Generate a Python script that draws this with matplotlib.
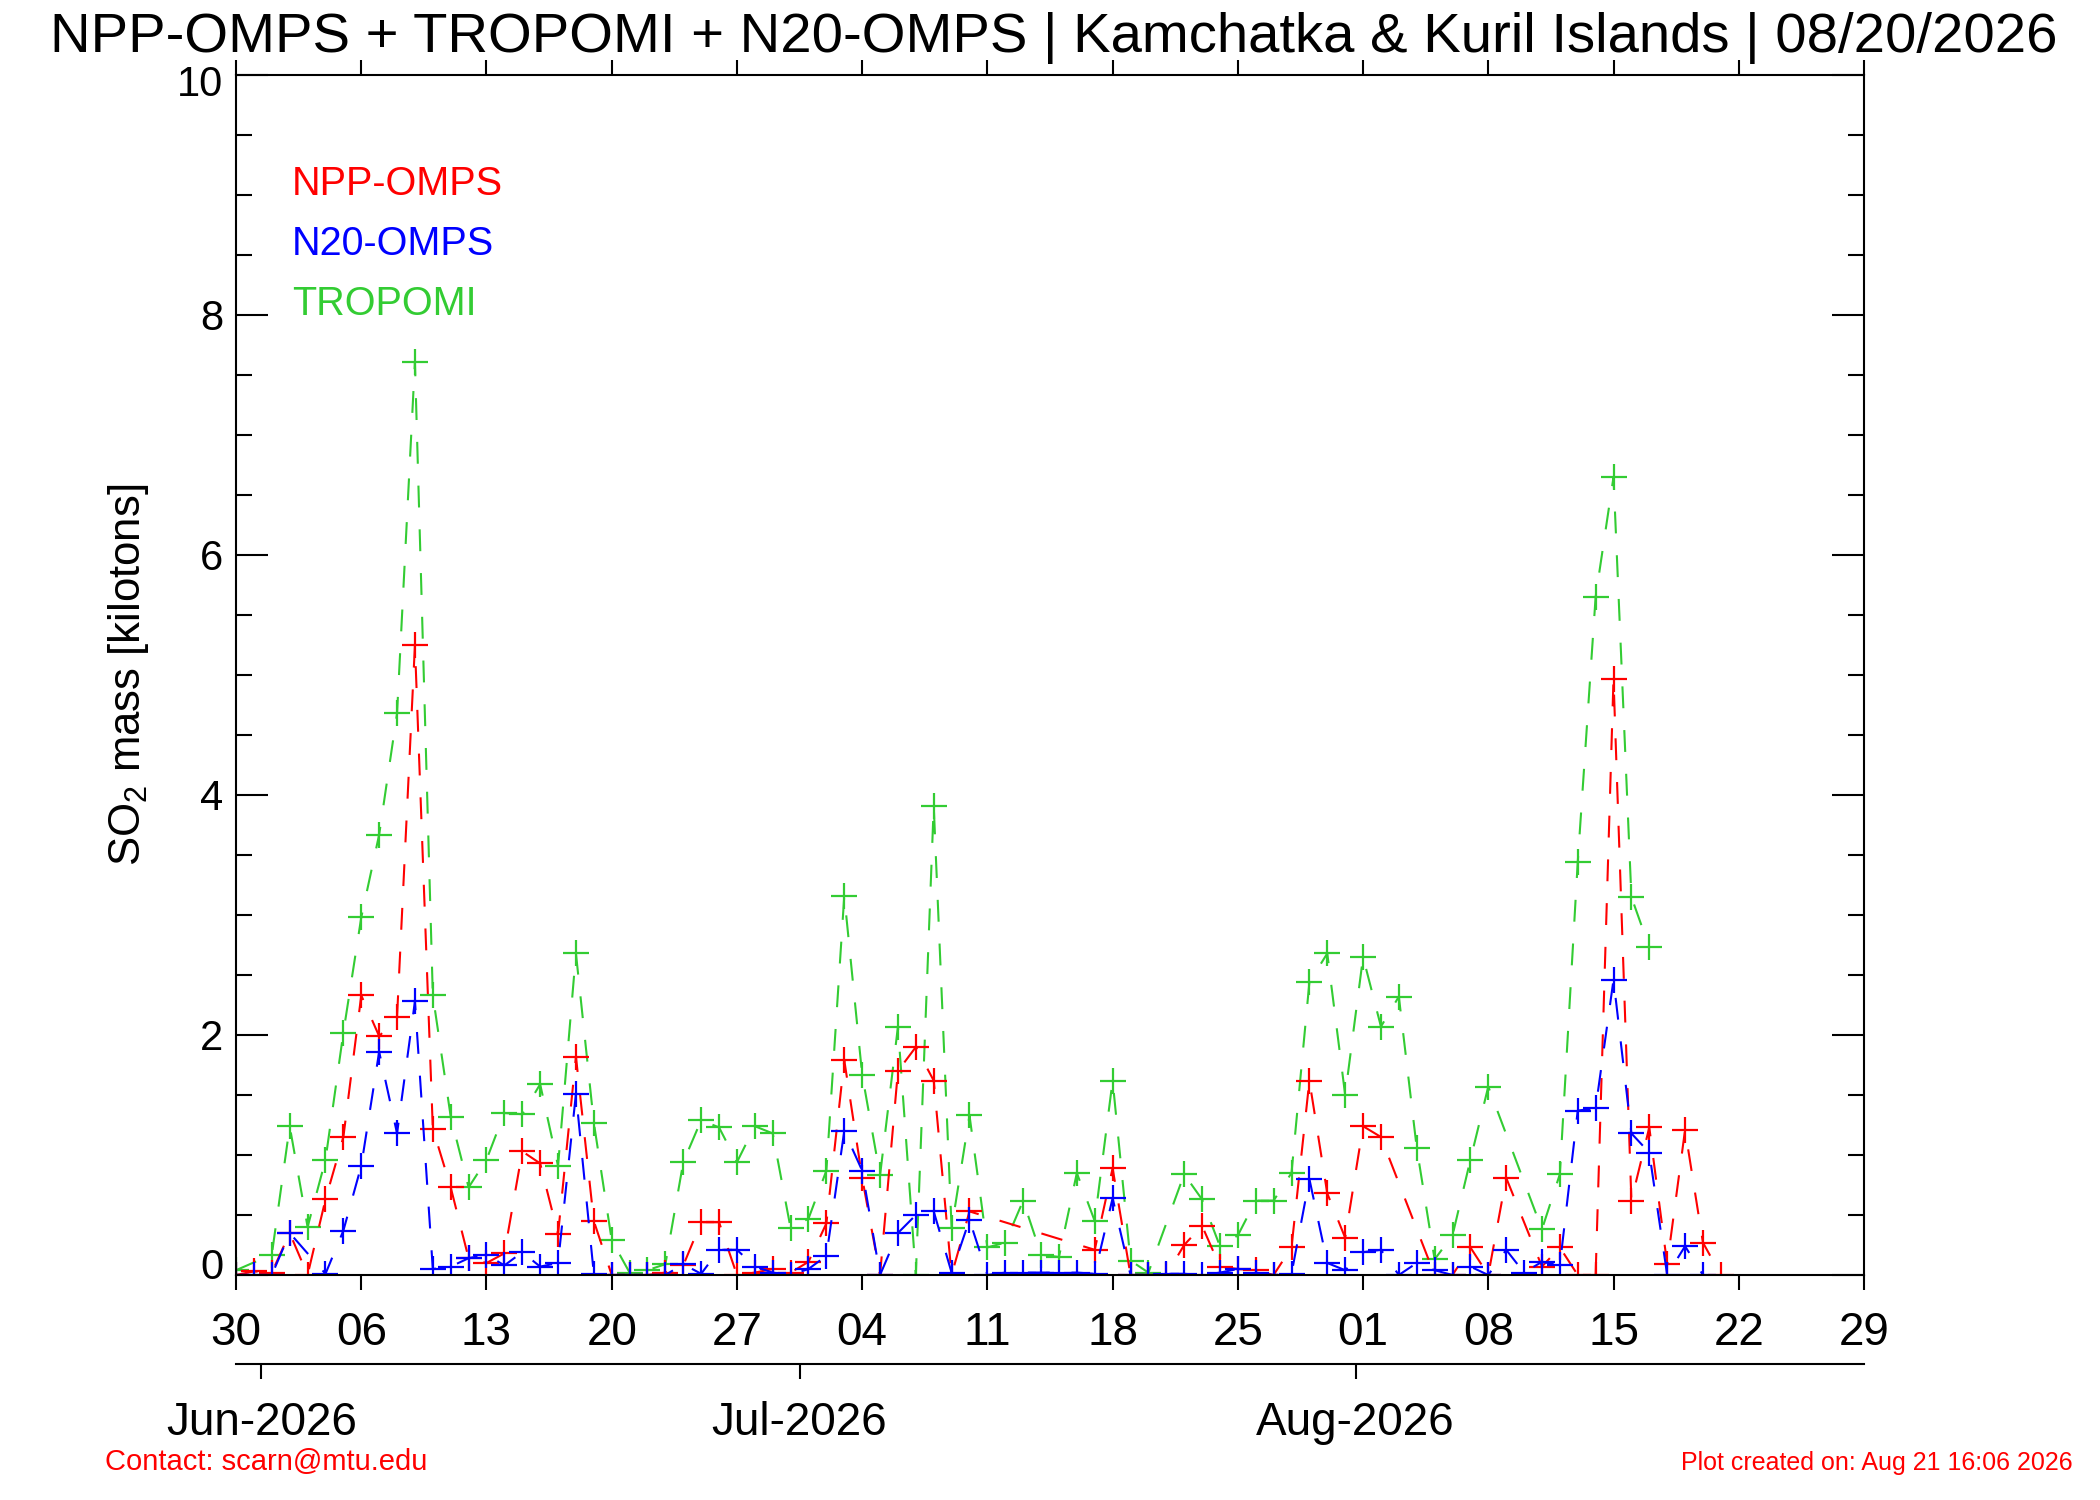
import numpy as np
import matplotlib
matplotlib.use("Agg")
import matplotlib.pyplot as plt
import matplotlib.dates as mdates
from matplotlib.ticker import MultipleLocator, FuncFormatter, FixedFormatter

plt.rcParams['font.family'] = ['Liberation Sans', 'DejaVu Sans']
plt.rcParams['mathtext.fontset'] = 'custom'
plt.rcParams['mathtext.rm'] = 'Liberation Sans'
plt.rcParams['mathtext.it'] = 'Liberation Sans:italic'

#########################################################################
# data (days counted from 30 May 2026)
#########################################################################
start = np.datetime64('2026-05-30')

npp_days = list(range(0, 42)) + list(range(48, 65)) + [67, 68, 69, 70, 71] + list(range(73, 84))
npp_vals = [0.0, 0.03, 0.02, 0.35, 0.0, 0.63, 1.15, 2.33, 1.99, 2.15,
            5.25, 1.22, 0.73, 0.14, 0.10, 0.18, 1.03, 0.93, 0.34, 1.82,
            0.45, 0.0, 0.0, 0.0, 0.02, 0.08, 0.44, 0.44, 0.0, 0.02,
            0.05, 0.02, 0.11, 0.43, 1.79, 0.81, 0.0, 1.70, 1.90, 1.62,
            0.0, 0.53,
            0.21, 0.89, 0.0, 0.0, 0.0, 0.25, 0.41, 0.07, 0.05, 0.04,
            0.0, 0.23, 1.62, 0.68, 0.31, 1.24, 1.15,
            0.0, 0.0, 0.23, 0.0, 0.81,
            0.07, 0.23, 0.0, 0.0, 4.97, 0.62, 1.23, 0.09, 1.21, 0.27, 0.0]

n20_days = [0, 1, 2, 3] + list(range(5, 83))
n20_vals = [0.0, 0.0, 0.0, 0.35,
            0.01, 0.37, 0.91, 1.86, 1.18, 2.28, 0.05, 0.07, 0.14, 0.17,
            0.08, 0.19, 0.07, 0.10, 1.51, 0.01, 0.0, 0.0, 0.0, 0.0,
            0.09, 0.01, 0.21, 0.21, 0.07, 0.02, 0.0, 0.05, 0.16, 1.20,
            0.87, 0.0, 0.35, 0.50, 0.53, 0.02, 0.46, 0.0, 0.02, 0.02,
            0.02, 0.02, 0.02, 0.01, 0.64, 0.0, 0.0, 0.01, 0.01, 0.0,
            0.02, 0.05, 0.02, 0.0, 0.01, 0.80, 0.10, 0.04, 0.19, 0.21,
            0.0, 0.10, 0.04, 0.0, 0.07, 0.0, 0.21, 0.02, 0.11, 0.08,
            1.37, 1.39, 2.46, 1.18, 1.02, 0.0, 0.24, 0.0]

tro_days = [0] + list(range(2, 52)) + list(range(53, 71)) + list(range(73, 80))
tro_vals = [0.04,
            0.17, 1.24, 0.40, 0.96, 2.02, 2.98, 3.67, 4.68, 7.61, 2.33,
            1.32, 0.73, 0.96, 1.35, 1.34, 1.59, 0.91, 2.68, 1.27, 0.29,
            0.02, 0.04, 0.09, 0.94, 1.29, 1.23, 0.94, 1.24, 1.18, 0.39,
            0.47, 0.87, 3.16, 1.67, 0.83, 2.07, 0.0, 3.91, 0.39, 1.33,
            0.23, 0.27, 0.62, 0.17, 0.15, 0.85, 0.45, 1.62, 0.12, 0.02,
            0.84, 0.63, 0.24, 0.33, 0.62, 0.62, 0.85, 2.44, 2.68, 1.50,
            2.65, 2.07, 2.32, 1.06, 0.13, 0.33, 0.96, 1.57,
            0.38, 0.84, 3.44, 5.65, 6.65, 3.15, 2.73]

series = [("TROPOMI", tro_days, tro_vals, '#33cc33'),
          ("NPP-OMPS", npp_days, npp_vals, '#ff0000'),
          ("N20-OMPS", n20_days, n20_vals, '#0000ff')]

# month labels and where the original plot puts them
month_ticks = ['2026-05-31T10:00', '2026-06-30T12:00', '2026-07-31T14:00']
month_labels = ['Jun-2026', 'Jul-2026', 'Aug-2026']

title = "NPP-OMPS + TROPOMI + N20-OMPS | Kamchatka & Kuril Islands | 08/20/2026"

#########################################################################
# plot
#########################################################################
fig = plt.figure(figsize=(21, 15), dpi=100)
ax = fig.add_axes([0.1124, 0.15, 0.7752, 0.80])

for name, days, vals, col in series:
    dates = (start + np.array(days, dtype='timedelta64[D]')).astype('datetime64[D]').astype(object)
    ax.plot(dates, vals, color=col, ls=(0, (10.5, 10.5)), lw=1.5,
            marker='+', ms=19, mew=1.6)

xmin = start.astype(object)
xmax = (start + np.timedelta64(91, 'D')).astype(object)
ymin, ymax = 0, 10
ax.set_xlim(xmin, xmax)
ax.set_ylim(ymin, ymax)

wk = [(start + np.timedelta64(7 * k, 'D')).astype(object) for k in range(14)]
ax.set_xticks(wk)
ax.xaxis.set_major_formatter(mdates.DateFormatter('%d'))
ax.yaxis.set_major_locator(MultipleLocator(2))
ax.yaxis.set_minor_locator(MultipleLocator(0.5))
# end labels are drawn separately, nudged inside the range like the original
ax.yaxis.set_major_formatter(FuncFormatter(
    lambda v, p: '' if v in (ymin, ymax) else '%g' % v))

for sp in ax.spines.values():
    sp.set_linewidth(1.5)
ax.tick_params(axis='x', which='major', direction='out', top=True, length=10.8,
               width=1.5, labelsize=33, pad=15)
ax.tick_params(axis='y', which='major', direction='in', right=True, length=23,
               width=1.5, labelsize=30, pad=9)
ax.tick_params(axis='y', which='minor', direction='in', right=True, length=11.5,
               width=1.5)

for v, dy in [(ymax, -7.2), (ymin, 5.0)]:
    ax.annotate('%g' % v, xy=(0, v), xycoords=('axes fraction', 'data'),
                xytext=(-9, dy), textcoords='offset points',
                ha='right', va='center', fontsize=30)

# legend as coloured text
for i, (name, col) in enumerate([("NPP-OMPS", '#ff0000'), ("N20-OMPS", '#0000ff'),
                                 ("TROPOMI", '#33cc33')]):
    ax.text(0.0344, 0.90 - 0.05 * i, name, color=col, fontsize=28.5,
            transform=ax.transAxes, va='baseline', ha='left')

# month axis below
ax2 = fig.add_axes([0.1124, 0.0907, 0.7752, 0.0001])
ax2.patch.set_visible(False)
for s in ['left', 'right', 'top']:
    ax2.spines[s].set_visible(False)
ax2.spines['bottom'].set_linewidth(1.5)
ax2.set_yticks([])
ax2.set_xlim(xmin, xmax)
ax2.set_xticks([np.datetime64(m).astype(object) for m in month_ticks])
ax2.xaxis.set_major_formatter(FixedFormatter(month_labels))
ax2.tick_params(axis='x', direction='out', length=10.8, width=1.5, labelsize=33, pad=16)

fig.text(0.502, 0.9653, title, fontsize=40.5, ha='center', va='baseline')
fig.text(0.061, 0.55, r'SO$_2$ mass [kilotons]', fontsize=31.5, rotation=90,
         ha='center', va='center')
fig.text(0.05, 0.02, 'Contact: scarn@mtu.edu', color='#ff0000', fontsize=21,
         ha='left', va='baseline')
fig.text(0.9871, 0.02, 'Plot created on: Aug 21 16:06 2026', color='#ff0000',
         fontsize=18, ha='right', va='baseline')

fig.savefig("out.png", dpi=100)
